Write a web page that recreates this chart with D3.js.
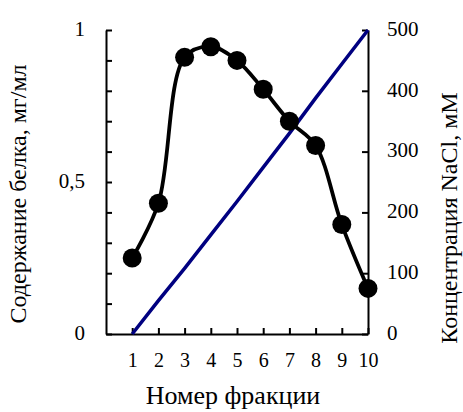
<!DOCTYPE html>
<html>
<head>
<meta charset="utf-8">
<script src="https://cdn.jsdelivr.net/npm/d3@7"></script>
<style>
  body { margin: 0; background: #fff; }
  svg text { font-family: "Liberation Serif", "Times New Roman", serif; fill: #000; }
  .axis path, .axis line { stroke: #000; stroke-width: 2px; }
</style>
</head>
<body>
<div id="chart"></div>
<script>
// номера фракций
var fractions = [1, 2, 3, 4, 5, 6, 7, 8, 9, 10];
// содержание белка, мг/мл
var protein = [0.25, 0.43, 0.91, 0.945, 0.9, 0.805, 0.70, 0.62, 0.36, 0.15];
// концентрация NaCl, мМ
var nacl = [0, 55, 108, 163, 218, 274, 330, 388, 444, 500];

var leftTicks = [0, 0.1, 0.2, 0.3, 0.4, 0.5, 0.6, 0.7, 0.8, 0.9, 1];
var leftLabels = [0, 0.5, 1];
var rightTicks = [0, 100, 200, 300, 400, 500];

var W = 463, H = 412;
var margin = { top: 30, right: 95, bottom: 78, left: 106 };
var width = W - margin.left - margin.right;   // 262
var height = H - margin.top - margin.bottom;  // 304

var svg = d3.select("#chart").append("svg")
  .attr("width", W)
  .attr("height", H);

var g = svg.append("g")
  .attr("transform", "translate(" + margin.left + "," + margin.top + ")");

var x = d3.scaleLinear().domain([0, 10]).range([0, width]);
var y = d3.scaleLinear().domain([0, 1]).range([height, 0]);
var y2 = d3.scaleLinear().domain([0, 500]).range([height, 0]);

// ось X
var xAxis = d3.axisBottom(x)
  .tickValues(fractions)
  .tickSizeInner(-6)
  .tickSizeOuter(0)
  .tickPadding(19)
  .tickFormat(d3.format("d"));

g.append("g")
  .attr("class", "axis")
  .attr("transform", "translate(0," + height + ")")
  .call(xAxis)
  .selectAll("text").style("font-size", "20px");

// левая ось
var yAxis = d3.axisLeft(y)
  .tickValues(leftTicks)
  .tickSizeInner(-6)
  .tickSizeOuter(0)
  .tickPadding(21)
  .tickFormat(function(d) {
    if (leftLabels.indexOf(d) < 0) return "";
    return String(d).replace(".", ",");
  });

g.append("g")
  .attr("class", "axis")
  .call(yAxis)
  .selectAll("text").style("font-size", "21px").attr("dy", "0.25em");

// правая ось
var y2Axis = d3.axisRight(y2)
  .tickValues(rightTicks)
  .tickSizeInner(-6)
  .tickSizeOuter(0)
  .tickPadding(19)
  .tickFormat(d3.format("d"));

g.append("g")
  .attr("class", "axis")
  .attr("transform", "translate(" + width + ",0)")
  .call(y2Axis)
  .selectAll("text").style("font-size", "21px").attr("dy", "0.25em");

// линия NaCl
var naclLine = d3.line()
  .x(function(d, i) { return x(fractions[i]); })
  .y(function(d) { return y2(d); });

g.append("path")
  .datum(nacl)
  .attr("d", naclLine)
  .attr("fill", "none")
  .attr("stroke", "#000080")
  .attr("stroke-width", 3.5);

// линия белка
var protLine = d3.line()
  .x(function(d, i) { return x(fractions[i]); })
  .y(function(d) { return y(d); })
  .curve(d3.curveCatmullRom.alpha(0.5));

g.append("path")
  .datum(protein)
  .attr("d", protLine)
  .attr("fill", "none")
  .attr("stroke", "#000")
  .attr("stroke-width", 3.8);

g.selectAll(".dot")
  .data(protein)
  .enter()
  .append("circle")
  .attr("class", "dot")
  .attr("cx", function(d, i) { return x(fractions[i]); })
  .attr("cy", function(d) { return y(d); })
  .attr("r", 9.5)
  .attr("fill", "#000");

// подписи осей
svg.append("text")
  .attr("text-anchor", "middle")
  .attr("transform", "translate(" + (margin.left + width / 2 - 4) + ",404)")
  .style("font-size", "26px")
  .text("Номер фракции");

svg.append("text")
  .attr("text-anchor", "middle")
  .attr("transform", "translate(26,194) rotate(-90)")
  .style("font-size", "24px")
  .text("Содержание белка, мг/мл");

svg.append("text")
  .attr("text-anchor", "middle")
  .attr("transform", "translate(457,218) rotate(-90)")
  .style("font-size", "24px")
  .text("Концентрация NaCl, мМ");
</script>
</body>
</html>
